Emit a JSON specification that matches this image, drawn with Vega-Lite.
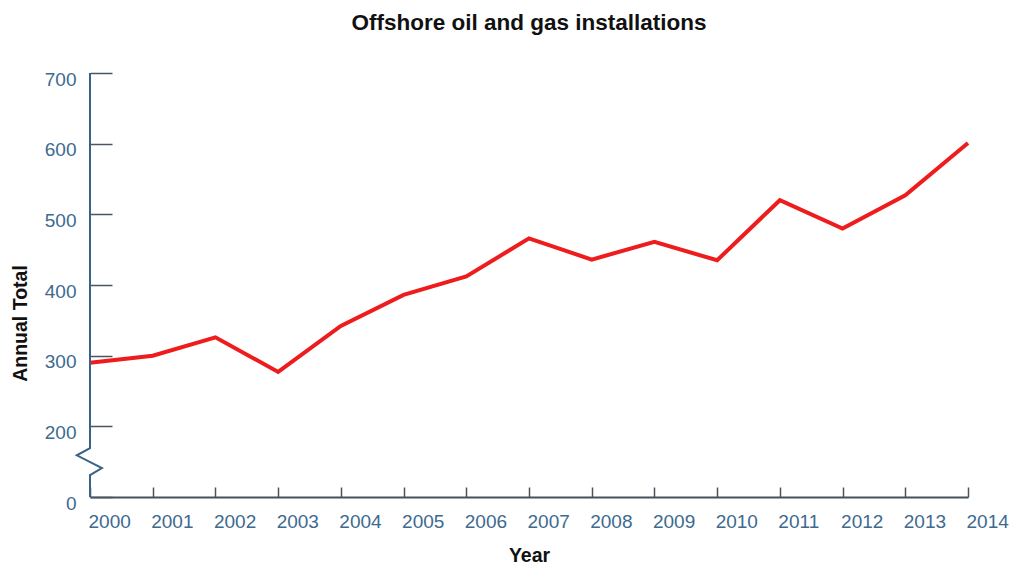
{
  "$schema": "https://vega.github.io/schema/vega-lite/v6.json",
  "autosize": "none",
  "width": 878,
  "height": 424,
  "padding": {"left": 90, "top": 73, "right": 51, "bottom": 73},
  "background": "white",
  "title": {
    "text": "Offshore oil and gas installations",
    "font": "Liberation Sans",
    "fontSize": 22.5,
    "fontWeight": "bold",
    "color": "#111111",
    "anchor": "middle",
    "offset": 35
  },
  "config": {
    "view": {"stroke": null},
    "axis": {"grid": false, "labelFont": "Liberation Sans", "titleFont": "Liberation Sans"}
  },
  "datasets": {
    "installs": [
      {"year": 2000, "total": 290},
      {"year": 2001, "total": 300},
      {"year": 2002, "total": 326},
      {"year": 2003, "total": 277},
      {"year": 2004, "total": 342},
      {"year": 2005, "total": 386},
      {"year": 2006, "total": 412},
      {"year": 2007, "total": 466},
      {"year": 2008, "total": 436},
      {"year": 2009, "total": 461},
      {"year": 2010, "total": 435},
      {"year": 2011, "total": 520},
      {"year": 2012, "total": 480},
      {"year": 2013, "total": 527},
      {"year": 2014, "total": 601}
    ],
    "axisline": [
      {"ax": 2000, "ay": 700, "k": 1},
      {"ax": 2000, "ay": 169, "k": 2},
      {"ax": 1999.79, "ay": 159, "k": 3},
      {"ax": 2000.19, "ay": 141, "k": 4},
      {"ax": 2000, "ay": 131, "k": 5},
      {"ax": 2000, "ay": 100, "k": 6}
    ]
  },
  "layer": [
    {
      "data": {"name": "installs"},
      "mark": {"type": "line", "color": "#ee1c1c", "strokeWidth": 4, "strokeJoin": "miter"},
      "encoding": {
        "x": {
          "field": "year", "type": "quantitative",
          "scale": {"domain": [2000, 2014], "nice": false, "zero": false},
          "axis": {
            "values": [2000, 2001, 2002, 2003, 2004, 2005, 2006, 2007, 2008, 2009, 2010, 2011, 2012, 2013, 2014],
            "format": "d",
            "title": "Year",
            "titleFontSize": 19.5,
            "titleFontWeight": "bold",
            "titleColor": "#111111",
            "titleY": 58,
            "titleBaseline": "middle",
            "labelFontSize": 19,
            "labelColor": "#3d6a90",
            "labelAlign": "left",
            "labelBaseline": "top",
            "labelOffset": -2,
            "labelPadding": 25,
            "tickSize": -10,
            "tickColor": "#4a5560",
            "tickWidth": 1.5,
            "domainColor": "#45525c",
            "domainWidth": 2,
            "labelFlush": false,
            "labelOverlap": false
          }
        },
        "y": {
          "field": "total", "type": "quantitative",
          "scale": {"domain": [100, 700], "nice": false, "zero": false},
          "axis": {
            "values": [100, 200, 300, 400, 500, 600, 700],
            "labelExpr": "datum.value == 100 ? '0' : datum.label",
            "title": "Annual Total",
            "titleFontSize": 19.5,
            "titleFontWeight": "bold",
            "titleColor": "#111111",
            "titleX": -70,
            "titleY": 250,
            "titleBaseline": "middle",
            "labelFontSize": 19,
            "labelColor": "#3d6a90",
            "labelOffset": 6,
            "labelPadding": 36,
            "tickSize": -22,
            "tickColor": "#4a5560",
            "tickWidth": 1.5,
            "domain": false,
            "labelFlush": false
          }
        }
      }
    },
    {
      "data": {"name": "axisline"},
      "mark": {"type": "line", "color": "#3a6288", "strokeWidth": 2, "clip": false},
      "encoding": {
        "x": {"field": "ax", "type": "quantitative"},
        "y": {"field": "ay", "type": "quantitative"},
        "order": {"field": "k"}
      }
    }
  ]
}
